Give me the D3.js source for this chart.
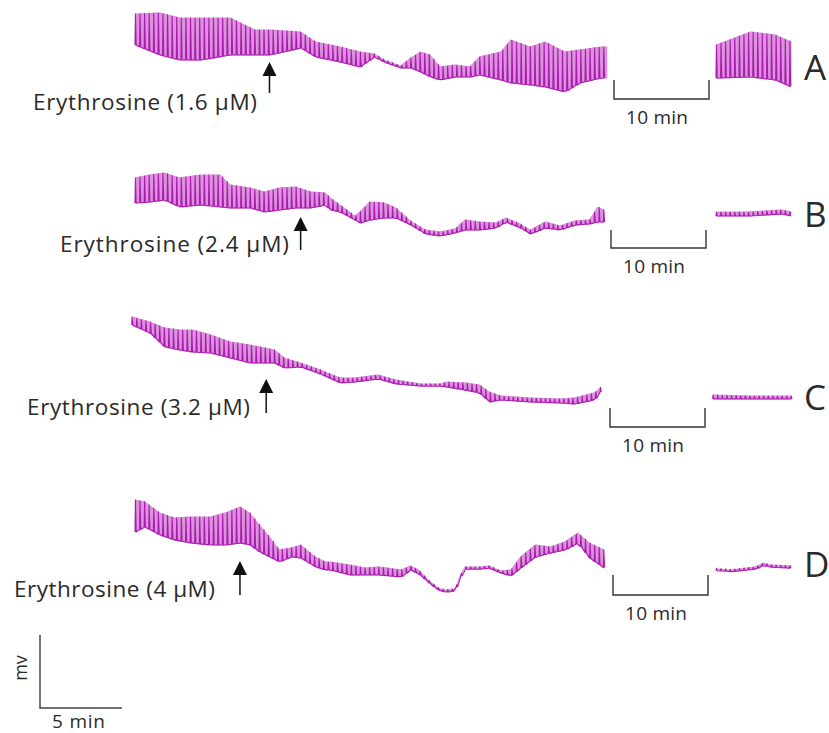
<!DOCTYPE html>
<html>
<head>
<meta charset="utf-8">
<script src="https://cdn.jsdelivr.net/npm/d3@7"></script>
<style>
  body { margin: 0; background: #fff; }
  svg { display: block; }
  text { font-family: "Open Sans", sans-serif; fill: #2a2a2a; }
</style>
</head>
<body>
<svg id="chart" width="829" height="733"></svg>
<script>
// ---- recorded traces (time in min, tension in arbitrary mV units, upper/lower envelope) ----
// A : 1.6 uM
const aTime = [0, 1.5, 2.7, 4.0, 5.8, 7.3, 8.2, 10.1, 11.0, 12.5, 13.7, 14.6, 15.2, 16.2, 16.8, 17.4, 18.0, 18.6, 19.5, 20.4, 21.0, 22.3, 22.9, 24.1, 25.0, 26.2, 27.1, 28.4, 28.8];
const aHigh = [86, 87, 82, 82, 82, 70, 70, 68, 58, 53, 48, 46, 40, 34, 42, 48, 45, 33, 35, 33, 43, 48, 60, 53, 58, 48, 50, 53, 53];
const aLow  = [55, 45, 40, 40, 45, 45, 45, 52, 43, 38, 33, 43, 38, 32, 32, 28, 23, 20, 23, 23, 25, 20, 17, 15, 13, 8, 17, 22, 22];
const aWashTime = [0, 2.1, 3.6, 4.6];
const aWashHigh = [55, 68, 65, 58];
const aWashLow  = [22, 23, 20, 13];

// B : 2.4 uM
const bTime = [0, 0.9, 1.8, 2.7, 4.0, 5.2, 5.8, 7.0, 7.9, 8.8, 9.8, 10.7, 11.6, 11.9, 12.5, 13.4, 13.7, 14.3, 15.2, 15.9, 16.8, 17.7, 18.6, 19.5, 20.1, 21.0, 22.0, 22.6, 23.5, 24.1, 25.0, 25.9, 26.8, 27.7, 28.2, 28.6];
const bHigh = [72, 75, 77, 72, 75, 75, 65, 62, 58, 62, 63, 58, 57, 52, 45, 34, 38, 48, 47, 42, 29, 20, 18, 21, 30, 28, 27, 32, 26, 20, 28, 24, 29, 30, 43, 40];
const bLow  = [47, 48, 50, 43, 45, 43, 42, 42, 38, 40, 42, 42, 45, 40, 38, 30, 27, 30, 32, 32, 25, 16, 14, 17, 20, 20, 22, 28, 22, 16, 22, 20, 25, 26, 28, 28];
const bWashTime = [0, 2.0, 4.0, 4.6];
const bWashHigh = [38, 38, 40, 38];
const bWashLow  = [34, 34, 36, 34];

// C : 3.2 uM
const cTime = [-0.2, 0.9, 1.8, 2.7, 3.5, 4.6, 5.8, 7.0, 8.5, 9.1, 10.1, 11.3, 12.5, 13.4, 14.8, 15.9, 17.4, 18.6, 19.0, 20.1, 21.0, 21.6, 22.3, 24.1, 25.9, 26.8, 28.0, 28.4];
const cHigh = [103, 98, 92, 90, 90, 85, 78, 75, 70, 62, 57, 50, 42, 42, 45, 40, 36, 36, 38, 37, 35, 28, 24, 22, 21, 22, 27, 33];
const cLow  = [95, 87, 73, 70, 68, 67, 62, 57, 57, 52, 53, 46, 37, 38, 41, 36, 34, 34, 33, 30, 27, 18, 20, 18, 17, 16, 20, 29];
const cWashTime = [-0.2, 2.0, 4.6];
const cWashHigh = [25, 24, 24];
const cWashLow  = [21, 21, 21];

// D : 4 uM
const dTime = [0, 0.6, 1.5, 2.4, 3.4, 4.6, 5.5, 6.4, 7.0, 7.6, 8.2, 8.8, 9.5, 10.1, 11.0, 11.6, 11.9, 13.1, 14.0, 14.9, 16.2, 16.8, 17.3, 18.0, 18.5, 18.9, 19.5, 19.8, 20.1, 21.0, 21.6, 22.3, 22.9, 23.5, 24.4, 25.3, 26.2, 27.0, 27.7, 28.6];
const dHigh = [100, 98, 87, 82, 83, 83, 87, 93, 87, 75, 63, 50, 52, 55, 43, 38, 38, 35, 32, 33, 30, 34, 30, 18, 12, 10, 11, 24, 33, 33, 34, 29, 30, 43, 55, 53, 58, 67, 57, 50];
const dLow  = [68, 73, 65, 60, 57, 55, 55, 57, 55, 48, 43, 38, 43, 42, 33, 30, 30, 25, 25, 25, 23, 30, 26, 16, 10, 8, 9, 22, 31, 31, 32, 27, 24, 32, 43, 47, 50, 57, 42, 32];
const dWashTime = [0, 0.9, 2.4, 2.9, 3.3, 4.6];
const dWashHigh = [31, 30, 33, 37, 35, 34];
const dWashLow  = [30, 29, 31, 35, 33, 32];

const doses = ["1.6 μM", "2.4  μM", "3.2 μM", "4 μM"];
const panelLetters = ["A", "B", "C", "D"];
const arrowTimes = [8.2, 10.1, 8.0, 6.4];   // when erythrosine was added
const cyclePeriod = 0.28;                     // min per contraction

// ---- layout ----
const svg = d3.select("#chart");
const pxPerMin = 16.4;
const x = d3.scaleLinear().domain([0, 29]).range([135, 135 + 29 * pxPerMin]);
const xWash = d3.scaleLinear().domain([0, 4.6]).range([716, 716 + 4.6 * pxPerMin]);

const rows = [
  { base: 100, t: aTime, hi: aHigh, lo: aLow, wt: aWashTime, whi: aWashHigh, wlo: aWashLow,
    labelStart: 33, labelEnd: 257, labelY: 110, arrowTip: 62, arrowEnd: 93, bar: [614, 80, 99], letterY: 80 },
  { base: 250, t: bTime, hi: bHigh, lo: bLow, wt: bWashTime, whi: bWashHigh, wlo: bWashLow,
    labelStart: 60, labelEnd: 289, labelY: 252, arrowTip: 217, arrowEnd: 250, bar: [611, 230, 248], letterY: 227 },
  { base: 420, t: cTime, hi: cHigh, lo: cLow, wt: cWashTime, whi: cWashHigh, wlo: cWashLow,
    labelStart: 27, labelEnd: 250, labelY: 415, arrowTip: 379, arrowEnd: 413, bar: [610, 408, 427], letterY: 410 },
  { base: 600, t: dTime, hi: dHigh, lo: dLow, wt: dWashTime, whi: dWashHigh, wlo: dWashLow,
    labelStart: 14, labelEnd: 215, labelY: 597, arrowTip: 561, arrowEnd: 595, bar: [613, 575, 595], letterY: 577 }
];

function drawTrace(g, times, hi, lo, xs, ys) {
  const hiAt = d3.scaleLinear().domain(times).range(hi);
  const loAt = d3.scaleLinear().domain(times).range(lo);
  const t0 = times[0], t1 = times[times.length - 1];

  // pale band between the envelopes
  const steps = d3.range(t0, t1, 0.05).concat([t1]);
  g.append("path")
    .attr("d", d3.area()
      .curve(d3.curveBasis)
      .x(t => xs(t))
      .y0(t => ys(loAt(t)) + 0.6)
      .y1(t => ys(hiAt(t)) - 0.6)(steps))
    .attr("fill", "#dc92dc");

  // individual contractions: sharp rise and fall
  const pts = [];
  for (let t = t0; t <= t1; t += cyclePeriod) {
    let h = hiAt(t), l = loAt(t);
    if (h - l < 2.4) { const m = (h + l) / 2; h = m + 1.2; l = m - 1.2; }
    const xp = xs(t);
    pts.push([xp, ys(l)], [xp + 0.4, ys(h)], [xp + 1.2, ys(l)]);
  }
  g.append("path")
    .attr("d", d3.line()(pts))
    .attr("fill", "none")
    .attr("stroke", "#a91caf")
    .attr("stroke-width", 1.1)
    .attr("stroke-linejoin", "round");
}

rows.forEach((r, i) => {
  const y = d3.scaleLinear().domain([0, 100]).range([r.base, r.base - 100]);
  const g = svg.append("g");
  drawTrace(g, r.t, r.hi, r.lo, x, y);
  drawTrace(g, r.wt, r.whi, r.wlo, xWash, y);

  // arrow for drug addition
  const ax = x(arrowTimes[i]);
  g.append("line")
    .attr("x1", ax).attr("x2", ax)
    .attr("y1", r.arrowTip + 10).attr("y2", r.arrowEnd)
    .attr("stroke", "#111").attr("stroke-width", 1.5);
  g.append("path")
    .attr("d", `M${ax},${r.arrowTip} L${ax - 7},${r.arrowTip + 14} L${ax + 7},${r.arrowTip + 14} Z`)
    .attr("fill", "#111");

  g.append("text")
    .attr("x", r.labelStart).attr("y", r.labelY)
    .attr("textLength", r.labelEnd - r.labelStart)
    .attr("lengthAdjust", "spacing")
    .style("font-size", "22.5px")
    .text("Erythrosine (" + doses[i] + ")");

  // 10 min gap bar
  const [bx, by0, by1] = r.bar;
  const bw = 95;
  g.append("path")
    .attr("d", `M${bx},${by0} V${by1} H${bx + bw} V${by0}`)
    .attr("fill", "none").attr("stroke", "#333").attr("stroke-width", 1.4);
  g.append("text")
    .attr("x", bx + 12).attr("y", by1 + 25)
    .attr("textLength", 62)
    .attr("lengthAdjust", "spacing")
    .style("font-size", "19px")
    .text("10 min");

  g.append("text")
    .attr("x", 804).attr("y", r.letterY)
    .style("font-size", "35px")
    .text(panelLetters[i]);
});

// calibration bars
const cal = svg.append("g");
const calX0 = 40, calY = 708;
cal.append("path")
  .attr("d", `M${calX0},635 V${calY} H${calX0 + x(5) - x(0)}`)
  .attr("fill", "none").attr("stroke", "#444").attr("stroke-width", 1.5);
cal.append("text")
  .attr("transform", `translate(27,668) rotate(-90)`)
  .attr("text-anchor", "middle")
  .style("font-size", "18px")
  .text("mv");
cal.append("text")
  .attr("x", 52).attr("y", 728)
  .attr("textLength", 53)
  .attr("lengthAdjust", "spacing")
  .style("font-size", "19px")
  .text("5 min");
</script>
</body>
</html>
